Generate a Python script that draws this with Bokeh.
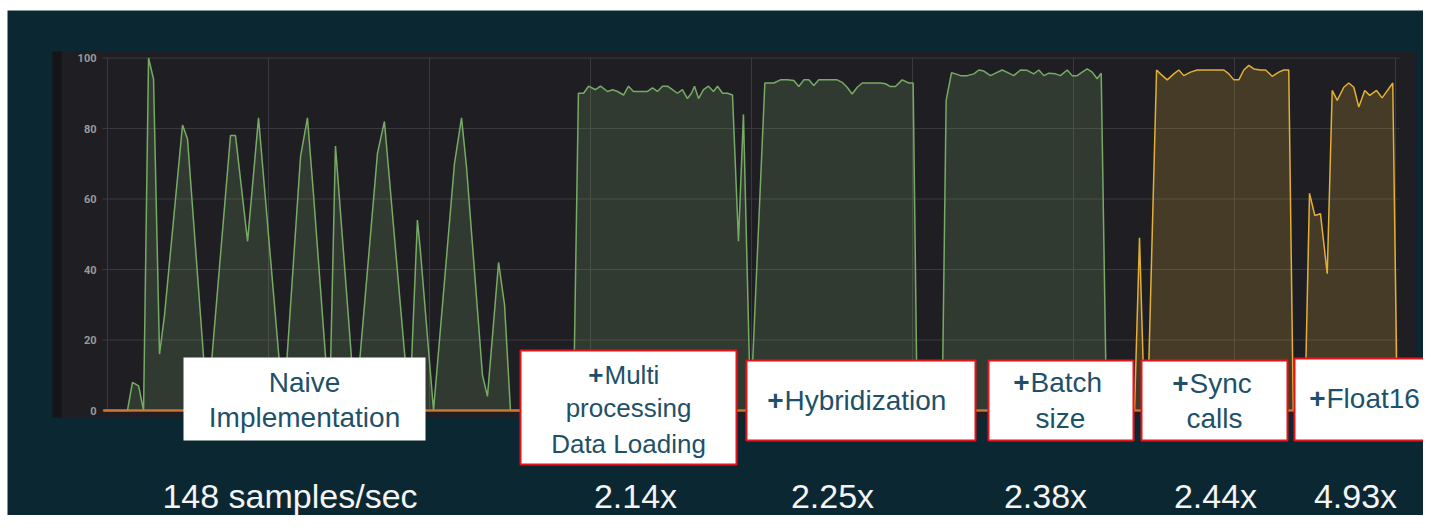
from bokeh.plotting import figure
from bokeh.models import Range1d
from bokeh.core.properties import value
from bokeh.embed import file_html
from bokeh.resources import INLINE

# ---------------- data (time in minutes, utilisation in %) ----------------
Y_TICKS = [0, 20, 40, 60, 80, 100]
X_GRID = [0, 10, 20, 30, 40, 50, 60, 70, 80]

GREEN_T = [-0.25, 1.24, 1.55, 1.93, 2.24, 2.55, 2.86, 3.23, 3.54, 4.66, 4.97, 6.21,
           7.64, 7.95, 8.70, 9.38, 10.93, 11.99, 12.42, 12.80, 13.79, 14.16, 15.40,
           16.77, 17.20, 18.76, 19.25, 19.44, 20.25, 21.55, 21.99, 22.30, 23.29, 23.60,
           24.29, 24.66, 25.03, 28.94,
           29.25, 29.57, 29.88, 30.31, 30.62, 31.06, 31.37, 31.68, 32.05, 32.36, 32.67,
           33.11, 33.54, 33.85, 34.16, 34.47, 34.78, 35.09, 35.40, 35.71, 36.02, 36.27,
           36.46, 36.71, 37.02, 37.33, 37.64, 37.89, 38.20, 38.51, 38.82, 39.19, 39.50,
           39.94,
           40.83, 41.39, 41.80, 42.22, 42.63, 42.94, 43.25, 43.56, 43.87, 44.18, 44.49,
           44.91, 45.32, 45.63, 45.94, 46.25, 46.57, 46.88, 47.29, 47.70, 48.01, 48.32,
           48.63, 48.94, 49.36, 49.77, 50.04, 50.29, 51.84,
           52.09, 52.42, 52.67, 52.98, 53.40, 53.81, 54.12, 54.43, 54.84, 55.16, 55.57,
           55.98, 56.29, 56.71, 57.12, 57.53, 57.85, 58.16, 58.47, 58.88, 59.19, 59.61,
           59.92, 60.23, 60.54, 60.85, 61.16, 61.47, 61.72, 62.05, 80.25]
GREEN_V = [0, 0, 8, 7, 0, 100, 94, 16, 27, 81, 77, 0,
           78, 78, 48, 83, 0, 72, 83, 61, 0, 75, 0,
           73, 82, 0, 54, 45, 0, 70, 83, 69, 10, 4,
           42, 30, 0, 0,
           90, 90, 92, 91, 92, 90.5, 91, 90.5, 89.5, 92, 90.5,
           90.5, 90.5, 91.5, 90.5, 92, 92, 91, 90, 91, 88.5, 90,
           92, 88.5, 91, 92, 90.5, 92, 90, 90, 89.5, 48, 84,
           0,
           92.9, 92.9, 93.8, 93.8, 93.6, 91.9, 93.8, 93.8, 92.2, 93.8, 93.8,
           93.8, 93.8, 93.1, 91.7, 89.8, 91.7, 92.9, 92.9, 92.9, 92.9, 92.7,
           91.9, 91.9, 93.8, 92.9, 92.9, 0, 0,
           88, 95.8, 95.5, 95.0, 95.0, 95.5, 96.6, 96.3, 95.0, 95.7, 96.6,
           95.7, 95.0, 96.6, 96.5, 95.5, 96.6, 95.0, 95.7, 95.5, 95.0, 96.6,
           95.0, 95.0, 96.0, 96.9, 96.0, 94.1, 95.7, 0, 0]

YELLOW_T = [-0.25, 63.79, 64.10, 64.41, 64.60, 65.16, 65.40, 65.82, 66.23, 66.54,
            66.85, 67.27, 67.68, 68.30, 68.93, 69.34, 69.65, 69.96, 70.27, 70.58,
            70.89, 71.20, 71.61, 71.93, 72.34, 72.75, 73.06, 73.37, 73.65, 74.37,
            74.66, 74.99, 75.34, 75.76, 76.07, 76.38, 76.79, 77.10, 77.41, 77.72,
            78.09, 78.40, 78.82, 79.17, 79.83, 80.11, 80.25]
YELLOW_V = [0, 0, 49, 0, 0, 96.6, 95.5, 93.8, 95.5, 96.6,
            95.0, 96.0, 96.6, 96.6, 96.6, 96.6, 95.5, 93.8, 93.8, 96.6,
            97.9, 96.9, 96.6, 96.6, 94.8, 96.0, 96.6, 96.6, 0, 0,
            61.6, 55.3, 55.8, 38.8, 90.8, 88.0, 91.7, 92.9, 91.7, 86.1,
            90.8, 89.4, 90.8, 88.7, 92.9, 0, 0]

ORANGE_T = [-0.25, 80.25]
ORANGE_V = [0, 0]

BOTTOM_TEXTS = ["148 samples/sec", "2.14x", "2.25x", "2.38x", "2.44x", "4.93x"]

# ---------------- layout helpers (picture pixels -> data units) ----------------
W, H = 1423, 515


def dx(px):
    return (px - 107) / 16.1


def dy(py):
    return (410 - py) / 3.525


TEAL = "#0b2832"
PANEL = "#1f1f23"
GRID = "#3a3a3e"
GREEN = "#77ab65"
YELLOW = "#e2b036"
ORANGE = "#cf7936"
LABEL_BLUE = "#1e5169"
FONT = value("Liberation Sans")

p = figure(width=W, height=H,
           x_range=Range1d(dx(0), dx(W)),
           y_range=Range1d(dy(H), dy(0)),
           x_axis_type=None, y_axis_type=None,
           toolbar_location=None, output_backend="svg",
           min_border=0, outline_line_color=None,
           background_fill_color="#ffffff", border_fill_color="#ffffff")

# slide background (white margin at left/top as in the reference)
p.quad(left=[dx(7)], right=[dx(W + 5)], top=[dy(10)], bottom=[dy(H + 5)],
       fill_color=TEAL, line_color=None)

# dark graph panel
p.quad(left=[dx(52)], right=[dx(1416)], top=[dy(51)], bottom=[dy(417)],
       fill_color=PANEL, line_color=None)
p.quad(left=[dx(52)], right=[dx(61)], top=[dy(51)], bottom=[dy(417)],
       fill_color="#151518", line_color=None)

# grid lines
p.segment(x0=[dx(102)] * len(Y_TICKS), x1=[dx(1399)] * len(Y_TICKS),
          y0=Y_TICKS, y1=Y_TICKS, line_color=GRID, line_width=1)
p.segment(x0=X_GRID, x1=X_GRID, y0=[Y_TICKS[0]] * len(X_GRID),
          y1=[Y_TICKS[-1]] * len(X_GRID), line_color=GRID, line_width=1)

# y tick labels
p.text(x=[dx(96)] * len(Y_TICKS), y=Y_TICKS, text=[str(t) for t in Y_TICKS],
       text_font=value("Roboto"), text_font_size=value("11px"),
       text_font_style="bold", text_color="#9a9a9a",
       text_align="right", text_baseline="middle")

# series
p.varea(x=GREEN_T, y1=[0] * len(GREEN_T), y2=GREEN_V, fill_color=GREEN, fill_alpha=0.2)
p.varea(x=YELLOW_T, y1=[0] * len(YELLOW_T), y2=YELLOW_V, fill_color=YELLOW, fill_alpha=0.2)
p.line(GREEN_T, GREEN_V, line_color=GREEN, line_width=1.5)
p.line(YELLOW_T, YELLOW_V, line_color=YELLOW, line_width=1.5)
p.line(ORANGE_T, ORANGE_V, line_color=ORANGE, line_width=2)

# label boxes (picture px: left, right, top, bottom)
boxes = [(183, 425, 357, 440, None),
         (520, 736, 350, 464, "#e8141c"),
         (746, 975, 360, 440, "#e8141c"),
         (988, 1133, 360, 440, "#e8141c"),
         (1141, 1287, 360, 440, "#e8141c"),
         (1294, 1445, 358, 440, "#e8141c")]
for l, r, t, b, lc in boxes:
    p.quad(left=[dx(l)], right=[dx(r)], top=[dy(t)], bottom=[dy(b)],
           fill_color="#ffffff", line_color=lc, line_width=2)

# centred plain lines: (text, center px, vertical middle px, size)
plain = [("Naive", 304, 382, "28px"), ("Implementation", 304, 417, "28px"),
         ("processing", 628, 407, "26px"), ("Data Loading", 628, 443, "26px"),
         ("size", 1060, 418, "28px"), ("calls", 1214, 418, "28px")]
for txt, cx, my, fs in plain:
    p.text(x=[dx(cx)], y=[dy(my)], text=[txt], text_font=FONT,
           text_font_size=value(fs), text_color=LABEL_BLUE,
           text_align="center", text_baseline="middle")

# "+Word" lines: bold plus, regular word; (word, split px, vertical middle px, size)
plus = [("Multi", 603, 374, "26px"), ("Hybridization", 783, 400, "28px"),
        ("Batch", 1029, 382, "28px"), ("Sync", 1188, 383, "28px"),
        ("Float16", 1325, 398, "28px")]
for word, sx, my, fs in plus:
    p.text(x=[dx(sx)], y=[dy(my)], text=["+"], text_font=FONT,
           text_font_size=value(fs), text_font_style="bold", text_color=LABEL_BLUE,
           text_align="right", text_baseline="middle")
    p.text(x=[dx(sx + 1)], y=[dy(my)], text=[word], text_font=FONT,
           text_font_size=value(fs), text_color=LABEL_BLUE,
           text_align="left", text_baseline="middle")

# bottom speed-up texts
bottom_cx = [289.5, 635, 832, 1045, 1215, 1355]
p.text(x=[dx(c) for c in bottom_cx], y=[dy(495)] * len(bottom_cx), text=BOTTOM_TEXTS,
       text_font=FONT, text_font_size=value("34px"), text_color="#f4f4f4",
       text_align="center", text_baseline="middle")

open("out.html", "w").write(file_html(p, INLINE))
